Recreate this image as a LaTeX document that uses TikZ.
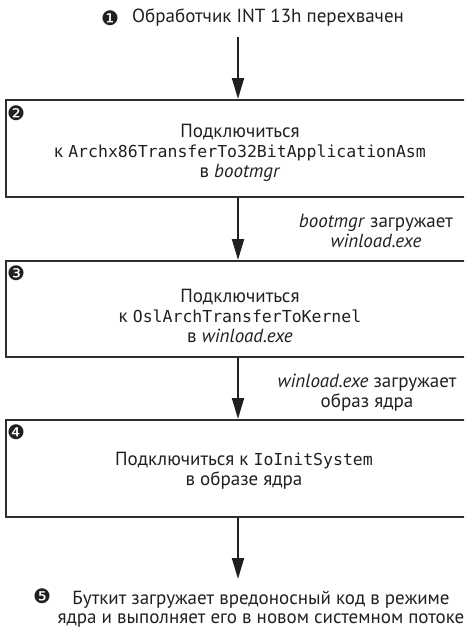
\documentclass[tikz,border=0pt]{standalone}
\usepackage{fontspec}
\setmainfont{PT Sans}
\setmonofont{DejaVu Sans Mono}
\newfontfamily\dingfont{DejaVu Sans}
\usetikzlibrary{arrows.meta}
\definecolor{ink}{HTML}{231F20}
\definecolor{frame}{HTML}{2E2E2E}
\tikzset{
  stepbox/.style={draw=frame, line width=2pt, rectangle, minimum width=464pt, inner sep=0pt},
  txt/.style={align=center, inner sep=0pt, text=ink, font=\fontsize{19}{20}\selectfont},
  num/.style={inner sep=0pt, text=ink, font=\dingfont\fontsize{20}{20}\selectfont},
  flow/.style={draw=ink, line width=2pt, -{Triangle[length=21pt,width=12pt]}}
}
\newcommand{\cod}[1]{{\ttfamily\fontsize{16.5}{20}\selectfont #1}}
\begin{document}
\begin{tikzpicture}[x=1pt,y=-1pt]
\clip (0,0) rectangle (464,630);
\useasboundingbox (0,0) rectangle (464,630);
% step 1
\node[num] (n1) at (110,18) {❶};
\node[txt, anchor=west] (t1) at (132,18) {Обработчик INT 13h перехвачен};
\coordinate (a1) at (238,37);
% box 1
\node[stepbox, minimum height=97pt] (b1) at (238,148.5) {};
\node[num] (n2) at (16,113) {❷};
\node[txt] (t2) at (240,153) {Подключиться\\к \cod{Archx86TransferTo32BitApplicationAsm}\\в \textit{bootmgr}};
\node[txt] (l1) at (376,231) {\textit{bootmgr} загружает\\\textit{winload.exe}};
% box 2
\node[stepbox, minimum height=96pt] (b2) at (238,309) {};
\node[num] (n3) at (16,273) {❸};
\node[txt] (t3) at (240,316) {Подключиться\\к \cod{OslArchTransferToKernel}\\в \textit{winload.exe}};
\node[txt] (l2) at (367,393) {\textit{winload.exe} загружает\\образ ядра};
% box 3
\node[stepbox, minimum height=97pt] (b3) at (238,468.5) {};
\node[num] (n4) at (16,432) {❹};
\node[txt] (t4) at (244,471) {Подключиться к \cod{IoInitSystem}\\в образе ядра};
% step 5
\coordinate (a5) at (238,579);
\node[num] (n5) at (42,596) {❺};
\node[txt, font=\fontsize{19}{19}\selectfont] (t5) at (261,609) {Буткит загружает вредоносный код в режиме\\ядра и выполняет его в новом системном потоке};
% arrows
\draw[flow] (a1) -- (b1.north);
\draw[flow] (b1.south) -- (b2.north);
\draw[flow] (b2.south) -- (b3.north);
\draw[flow] (b3.south) -- (a5);
\end{tikzpicture}
\end{document}
